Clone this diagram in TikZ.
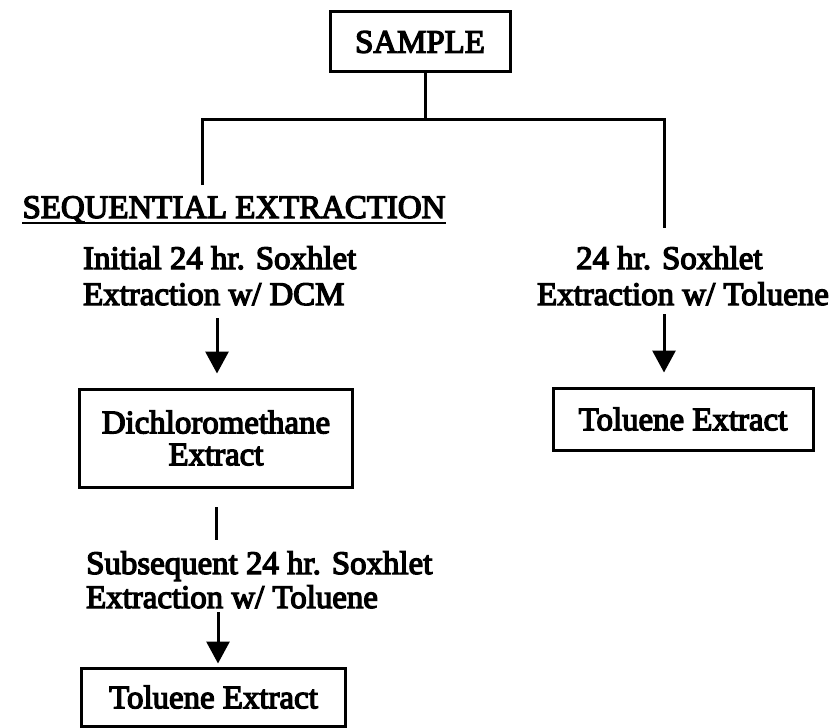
\documentclass[tikz,border=0pt]{standalone}
\usepackage{fontspec}
\setmainfont{Liberation Serif}[BoldFont={Liberation Serif}, BoldFeatures={FakeBold=4}]
\usetikzlibrary{arrows.meta,calc}
\begin{document}
\begin{tikzpicture}[x=1bp,y=-1bp,
  every node/.style={inner sep=0pt, font=\bfseries\fontsize{33}{32}\selectfont},
  boxnode/.style={draw, line width=3bp, align=center},
  ln/.style={line width=3bp},
  arr/.style={line width=3bp, -{Triangle[width=23bp,length=22bp]}},
  lbl/.style={anchor=base west},
]
\useasboundingbox (0,0) rectangle (832,728);
% boxes
\node[boxnode, minimum width=180bp, minimum height=60bp] (sample) at (420,42) {SAMPLE};
\node[boxnode, minimum width=272bp, minimum height=98bp] (dich) at (216,438) {Dichloromethane\\Extract};
\node[boxnode, minimum width=260bp, minimum height=62bp] (tolR) at (683,419) {Toluene Extract};
\node[boxnode, minimum width=263bp, minimum height=58bp] (tolL) at (213.5,697) {Toluene Extract};
% labels
\node[anchor=base] (seq) at (234,218) {SEQUENTIAL EXTRACTION};
\draw[line width=2bp] ([yshift=-5bp]seq.base west) -- ([yshift=-5bp]seq.base east);
\node[lbl] (l1a) at (83,269) {Initial 24 hr. Soxhlet};
\node[lbl] (l1b) at (83,305) {Extraction w/ DCM};
\node[lbl] (l2a) at (86,574) {Subsequent 24 hr. Soxhlet};
\node[lbl] (l2b) at (86,608) {Extraction w/ Toluene};
\node[lbl] (r1a) at (576,269) {24 hr. Soxhlet};
\node[anchor=base east] (r1b) at (829,305) {Extraction w/ Toluene};
% tree
\coordinate (stem) at (425,120);
\coordinate (barL) at (202,120);
\coordinate (barR) at (664,120);
\coordinate (dropL) at (202,185);
\coordinate (dropR) at (664,228);
\draw[ln] (stem |- sample.south) -- (stem);
\draw[ln] (dropL) -- (barL) -- (barR) -- (dropR);
% arrows
\coordinate (a1) at (217,318);
\draw[arr, shorten >=14bp] (a1) -- (a1 |- dich.north);
\coordinate (v1) at (216,507);
\coordinate (v1e) at (216,540);
\draw[ln] (v1) -- (v1e);
\coordinate (a2) at (218,612);
\draw[arr, shorten >=3bp] (a2) -- (a2 |- tolL.north);
\coordinate (a3) at (664,314);
\draw[arr, shorten >=14bp] (a3) -- (a3 |- tolR.north);
\end{tikzpicture}
\end{document}
